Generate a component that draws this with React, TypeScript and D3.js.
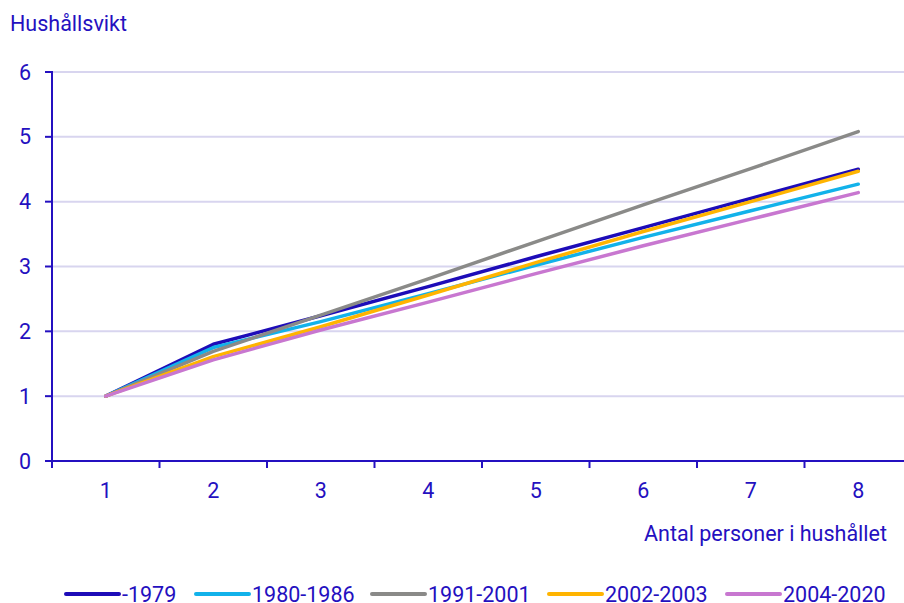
import * as d3 from 'd3';

// Household weight by number of persons, per period
const persons = [1, 2, 3, 4, 5, 6, 7, 8];
const seriesNames = ['-1979', '1980-1986', '1991-2001', '2002-2003', '2004-2020'];
const s1979 = [1, 1.8, 2.24, 2.69, 3.15, 3.6, 4.05, 4.5];
const s1980 = [1, 1.75, 2.15, 2.58, 3.02, 3.45, 3.86, 4.27];
const s1991 = [1, 1.69, 2.25, 2.81, 3.38, 3.95, 4.51, 5.08];
const s2002 = [1, 1.61, 2.07, 2.56, 3.06, 3.54, 4.0, 4.47];
const s2004 = [1, 1.56, 2.02, 2.45, 2.89, 3.32, 3.73, 4.14];
const yTicks = [0, 1, 2, 3, 4, 5, 6];

const seriesValues = [s1979, s1980, s1991, s2002, s2004];
const colors = ['#1d0cb8', '#12b2ea', '#8a8a88', '#ffb400', '#c877d0'];
const textColor = '#2410c0';
const gridColor = '#d8d5ef';

const W = 904;
const H = 603;
const margin = { left: 52, right: -8, top: 72, bottom: 142 };
const fs = 21.5;

export default function App() {
  const x = d3
    .scaleBand<number>()
    .domain(persons)
    .range([margin.left, W - margin.right])
    .padding(0);
  const y = d3.scaleLinear().domain([0, 6]).range([H - margin.bottom, margin.top]);

  const line = d3
    .line<number>()
    .x((_d, i) => (x(persons[i]) ?? 0) + x.bandwidth() / 2)
    .y((d) => y(d));

  const boundaries = persons.map((p) => x(p) ?? 0);
  const font = 'Roboto, "Noto Sans", sans-serif';

  // legend positions (swatch starts)
  const legendX = [66, 196, 372, 549, 727];
  const legendY = 594;

  return (
    <svg
      width={W}
      height={H}
      style={{ position: 'absolute', left: 0, top: 0, display: 'block' }}
      fontFamily={font}
    >
      <rect width={W} height={H} fill="#ffffff" />
      <text x={10} y={31} fontSize={fs} fill={textColor}>
        Hushållsvikt
      </text>

      {/* grid */}
      {yTicks
        .filter((t) => t > 0)
        .map((t) => (
          <line
            key={t}
            x1={margin.left}
            x2={W}
            y1={y(t)}
            y2={y(t)}
            stroke={gridColor}
            strokeWidth={2}
          />
        ))}

      {/* y axis */}
      <line x1={margin.left} x2={margin.left} y1={y(6) - 1} y2={y(0)} stroke={textColor} strokeWidth={2} />
      {yTicks.map((t) => (
        <g key={t}>
          <line x1={margin.left - 7} x2={margin.left} y1={y(t)} y2={y(t)} stroke={textColor} strokeWidth={2} />
          <text x={31} y={y(t)} dy="0.35em" textAnchor="end" fontSize={fs} fill={textColor}>
            {t}
          </text>
        </g>
      ))}

      {/* x axis */}
      <line x1={margin.left - 7} x2={W} y1={y(0)} y2={y(0)} stroke={textColor} strokeWidth={2} />
      {boundaries.map((b, i) => (
        <line key={i} x1={b} x2={b} y1={y(0)} y2={y(0) + 7} stroke={textColor} strokeWidth={2} />
      ))}
      {persons.map((p) => (
        <text
          key={p}
          x={(x(p) ?? 0) + x.bandwidth() / 2}
          y={490}
          dy="0.35em"
          textAnchor="middle"
          fontSize={fs}
          fill={textColor}
        >
          {p}
        </text>
      ))}
      <text x={887} y={533} dy="0.35em" textAnchor="end" fontSize={fs} fill={textColor}>
        Antal personer i hushållet
      </text>

      {/* lines */}
      {seriesValues.map((vals, i) => (
        <path
          key={seriesNames[i]}
          d={line(vals) ?? ''}
          fill="none"
          stroke={colors[i]}
          strokeWidth={3.5}
          strokeLinecap="round"
          strokeLinejoin="round"
        />
      ))}

      {/* legend */}
      {seriesNames.map((name, i) => (
        <g key={name}>
          <line
            x1={legendX[i]}
            x2={legendX[i] + 53}
            y1={legendY}
            y2={legendY}
            stroke={colors[i]}
            strokeWidth={4}
            strokeLinecap="round"
          />
          <text x={legendX[i] + 56} y={legendY} dy="0.35em" fontSize={fs} fill={textColor}>
            {name}
          </text>
        </g>
      ))}
    </svg>
  );
}
